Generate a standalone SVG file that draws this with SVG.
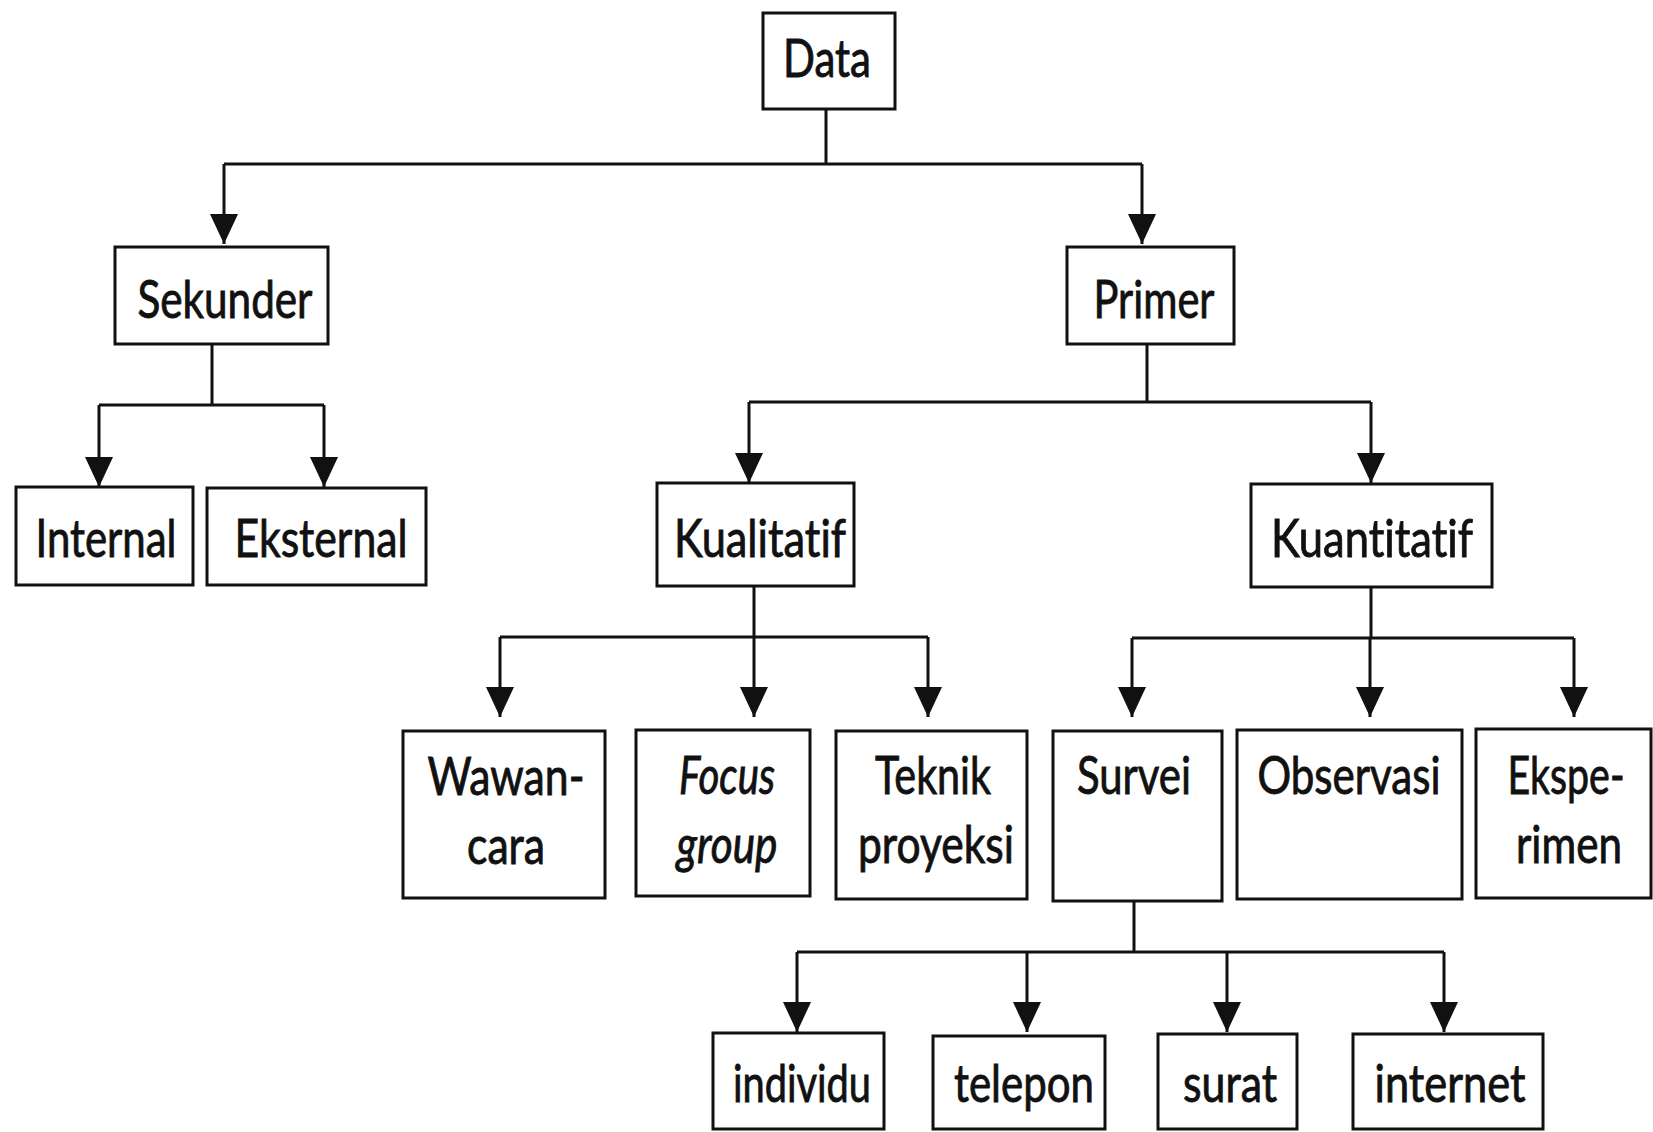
<svg xmlns="http://www.w3.org/2000/svg" width="1653" height="1132" viewBox="0 0 1653 1132">
<style>
.box{fill:#fff;stroke:#111;stroke-width:3}
.t{font-family:Lato,"Open Sans","Liberation Sans",sans-serif;font-size:53px;fill:#111;stroke:#111;stroke-width:0.9;text-anchor:middle;font-variant-ligatures:none}
.i{font-style:italic}
.ln{fill:none;stroke:#111;stroke-width:3}
</style>
<defs>
<marker id="arr" viewBox="0 0 30 28" refX="30" refY="14" markerWidth="30" markerHeight="28" markerUnits="userSpaceOnUse" orient="auto">
<path d="M0,0 L30,14 L0,28 Z" fill="#111"/>
</marker>
</defs>
<rect width="1653" height="1132" fill="#fff"/>
<g id="connectors">
<path class="ln" d="M826,109 V164 M224,164 H1142"/>
<path class="ln" d="M224,164 V244" marker-end="url(#arr)"/>
<path class="ln" d="M1142,164 V244" marker-end="url(#arr)"/>
<path class="ln" d="M212,344 V405 M99,405 H324"/>
<path class="ln" d="M99,405 V487" marker-end="url(#arr)"/>
<path class="ln" d="M324,405 V487" marker-end="url(#arr)"/>
<path class="ln" d="M1147,344 V402 M749,402 H1371"/>
<path class="ln" d="M749,402 V483" marker-end="url(#arr)"/>
<path class="ln" d="M1371,402 V483" marker-end="url(#arr)"/>
<path class="ln" d="M754,586 V637 M500,637 H928"/>
<path class="ln" d="M500,637 V717" marker-end="url(#arr)"/>
<path class="ln" d="M754,637 V717" marker-end="url(#arr)"/>
<path class="ln" d="M928,637 V717" marker-end="url(#arr)"/>
<path class="ln" d="M1371,587 V638 M1132,638 H1574"/>
<path class="ln" d="M1132,638 V717" marker-end="url(#arr)"/>
<path class="ln" d="M1370,638 V717" marker-end="url(#arr)"/>
<path class="ln" d="M1574,638 V717" marker-end="url(#arr)"/>
<path class="ln" d="M1134,901 V952 M797,952 H1444"/>
<path class="ln" d="M797,952 V1032" marker-end="url(#arr)"/>
<path class="ln" d="M1027,952 V1032" marker-end="url(#arr)"/>
<path class="ln" d="M1227,952 V1032" marker-end="url(#arr)"/>
<path class="ln" d="M1444,952 V1032" marker-end="url(#arr)"/>
</g>
<g id="data"><rect class="box" x="763" y="13" width="132" height="96"/><text class="t" x="827" y="77" textLength="88" lengthAdjust="spacingAndGlyphs">Data</text></g>
<g id="sekunder"><rect class="box" x="115" y="247" width="213" height="97"/><text class="t" x="225" y="318" textLength="175" lengthAdjust="spacingAndGlyphs">Sekunder</text></g>
<g id="primer"><rect class="box" x="1067" y="247" width="167" height="97"/><text class="t" x="1154" y="318" textLength="121" lengthAdjust="spacingAndGlyphs">Primer</text></g>
<g id="internal"><rect class="box" x="16" y="487" width="177" height="98"/><text class="t" x="106" y="557" textLength="141" lengthAdjust="spacingAndGlyphs">Internal</text></g>
<g id="eksternal"><rect class="box" x="207" y="488" width="219" height="97"/><text class="t" x="321" y="557" textLength="173" lengthAdjust="spacingAndGlyphs">Eksternal</text></g>
<g id="kualitatif"><rect class="box" x="657" y="483" width="197" height="103"/><text class="t" x="760" y="557" textLength="172" lengthAdjust="spacingAndGlyphs">Kualitatif</text></g>
<g id="kuantitatif"><rect class="box" x="1251" y="484" width="241" height="103"/><text class="t" x="1372" y="557" textLength="202" lengthAdjust="spacingAndGlyphs">Kuantitatif</text></g>
<g id="wawancara"><rect class="box" x="403" y="731" width="202" height="167"/><text class="t" x="506" y="795" textLength="157" lengthAdjust="spacingAndGlyphs">Wawan-</text><text class="t" x="506" y="864" textLength="78" lengthAdjust="spacingAndGlyphs">cara</text></g>
<g id="focusgroup"><rect class="box" x="636" y="730" width="174" height="166"/><text class="t i" x="727" y="794" textLength="96" lengthAdjust="spacingAndGlyphs">Focus</text><text class="t i" x="727" y="863" textLength="101" lengthAdjust="spacingAndGlyphs">group</text></g>
<g id="teknikproyeksi"><rect class="box" x="836" y="731" width="191" height="168"/><text class="t" x="933" y="794" textLength="116" lengthAdjust="spacingAndGlyphs">Teknik</text><text class="t" x="936" y="863" textLength="156" lengthAdjust="spacingAndGlyphs">proyeksi</text></g>
<g id="survei"><rect class="box" x="1053" y="731" width="169" height="170"/><text class="t" x="1134" y="794" textLength="114" lengthAdjust="spacingAndGlyphs">Survei</text></g>
<g id="observasi"><rect class="box" x="1237" y="730" width="225" height="169"/><text class="t" x="1349" y="794" textLength="183" lengthAdjust="spacingAndGlyphs">Observasi</text></g>
<g id="eksperimen"><rect class="box" x="1476" y="729" width="175" height="169"/><text class="t" x="1566" y="794" textLength="117" lengthAdjust="spacingAndGlyphs">Ekspe-</text><text class="t" x="1569" y="863" textLength="106" lengthAdjust="spacingAndGlyphs">rimen</text></g>
<g id="individu"><rect class="box" x="713" y="1033" width="171" height="96"/><text class="t" x="802" y="1102" textLength="138" lengthAdjust="spacingAndGlyphs">individu</text></g>
<g id="telepon"><rect class="box" x="933" y="1036" width="172" height="93"/><text class="t" x="1024" y="1102" textLength="140" lengthAdjust="spacingAndGlyphs">telepon</text></g>
<g id="surat"><rect class="box" x="1158" y="1034" width="139" height="95"/><text class="t" x="1230" y="1102" textLength="94" lengthAdjust="spacingAndGlyphs">surat</text></g>
<g id="internet"><rect class="box" x="1353" y="1034" width="190" height="95"/><text class="t" x="1450" y="1102" textLength="151" lengthAdjust="spacingAndGlyphs">internet</text></g>
</svg>
